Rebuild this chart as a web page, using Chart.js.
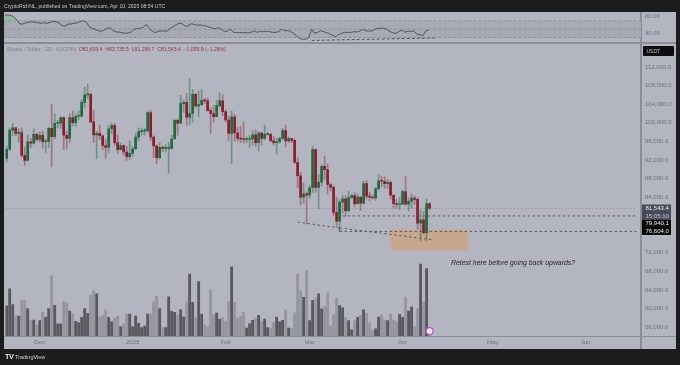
<!DOCTYPE html>
<html>
<head>
<meta charset="utf-8">
<title>Bitcoin / Tether</title>
<script src="https://cdn.jsdelivr.net/npm/chart.js@4/dist/chart.umd.min.js"></script>
<style>
  html, body { margin: 0; padding: 0; background: #1c1c1c; overflow: hidden; }
  #page { position: relative; width: 680px; height: 365px; filter: blur(0.35px); font-family: "Liberation Sans", sans-serif; }
  #panel { position: absolute; left: 4px; top: 12px; width: 672px; height: 337px; background: #b3b5c0; }
  .rule { position: absolute; background: #8b8d99; }
  #ruleTop { left: 4px; top: 42px; width: 672px; height: 2px; }
  #ruleBottom { left: 4px; top: 336px; width: 672px; height: 1px; }
  #ruleAxis { left: 640px; top: 12px; width: 2px; height: 337px; }
  canvas { position: absolute; left: 0; }
  #rsiChart { top: 12px; }
  #mainChart { top: 44px; }
  #strip { position: absolute; left: 0; top: 0; width: 4px; height: 365px; background: #1c1c1c; }
  .txt { position: absolute; white-space: nowrap; }
  #publisher { left: 4px; top: 3px; font-size: 5.1px; line-height: 7px; color: #c9c9c9; }
  #legend { left: 7px; top: 46px; font-size: 5.1px; line-height: 7px; color: #7b7d88; }
  #legend b { font-weight: normal; color: #8c3a4a; }
  #usdt { left: 643px; top: 46px; width: 31px; height: 10px; background: #0c0c0e; color: #c4c4c8; font-size: 5px; line-height: 10px; text-indent: 3.5px; border-radius: 1px; }
  #retest { left: 451px; top: 258px; font-size: 6.9px; line-height: 9px; font-style: italic; color: #26272c; }
  #tvMark { left: 5px; top: 353px; font-size: 7.5px; line-height: 8px; font-weight: bold; color: #e4e4e4; letter-spacing: -0.5px; }
  #tvName { left: 15px; top: 353px; font-size: 5.5px; line-height: 8px; color: #d2d2d2; }
</style>
</head>
<body>
<div id="page">
  <div id="panel"></div>
  <div class="rule" id="ruleTop"></div>
  <div class="rule" id="ruleBottom"></div>
  <div class="rule" id="ruleAxis"></div>
  <canvas id="rsiChart" width="676" height="30"></canvas>
  <canvas id="mainChart" width="676" height="305"></canvas>
  <div id="strip"></div>
  <div class="txt" id="publisher">CryptoRichNL, published on TradingView.com, Apr 10, 2025 08:54 UTC</div>
  <div class="txt" id="legend">Bitcoin / Tether · 1D · KUCOIN &nbsp;<b>O82,603.4 &nbsp;H82,735.5 &nbsp;L81,296.7 &nbsp;C81,543.4 &nbsp;−1,059.9 (−1.28%)</b></div>
  <div class="txt" id="usdt">USDT</div>
  <div class="txt" id="retest">Retest here before going back upwards?</div>
  <div class="txt" id="tvMark">TV</div>
  <div class="txt" id="tvName">TradingView</div>
</div>

<script>
// candles, one per day from 2024-11-20 to 2025-04-10
const opens = [
  92300,94300,98400,98900,97700,97900,93000,91900,95900,95600,97500,
  96400,97300,95900,96000,98800,97000,99900,99900,101100,97300,96600,101100,100000,101400,101400,104400,106000,106100,100200,97400,97700,97200,95100,94700,98700,99400,95700,94200,95100,93700,92700,
  93400,94400,96900,98100,98200,98300,102200,96900,95000,92500,94700,94500,94500,94500,96500,100500,99900,104100,104400,101200,102000,106100,103600,103900,104800,104700,102600,102000,101300,103700,104700,
  102400,100600,97700,101300,97800,96600,96500,96400,96400,96500,97400,95700,97800,96600,97500,97500,96100,95700,95900,96600,98300,96100,96600,96200,91500,88600,84000,84700,
  84400,86000,94200,86100,87200,90600,89900,86700,86100,80700,78800,82900,83600,81100,83900,84300,82600,84000,82700,86900,84200,84000,83800,85800,87500,87400,86900,87200,84400,82600,82400,
  82500,85200,82500,83100,83800,83500,78400,79100,76300,82600
];
const highs = [
  94900,98900,99800,99000,98700,98900,94800,97400,96600,98700,97800,
  98000,98200,96500,99000,104000,102000,100500,101300,101200,98200,101900,102500,101900,102600,105000,107700,108300,106500,102700,98100,99500,97400,96400,99400,99900,99900,97400,95600,95200,94900,96100,
  94900,97800,98900,98800,98800,102500,102700,97200,95300,95800,95000,95300,95800,97300,100700,100800,105900,104900,106300,109500,107200,106300,106800,107100,105200,105400,103200,103700,104800,106400,106000,
  102800,101500,102500,101800,99000,99300,100200,96900,97300,98300,98500,98100,98000,99500,97900,97700,97000,96700,96900,98800,99500,96900,96600,96500,92500,89400,87000,85100,
  86500,95000,94400,88900,91000,92800,91200,86900,86500,84000,83500,84400,84300,85300,84700,85000,84700,84000,87400,87500,85000,84500,86000,88800,88500,88300,87800,87500,84600,83500,83900,
  85500,88500,83900,84700,84200,83800,81200,80900,83500,82735
];
const lows = [
  91500,94000,97200,97200,95700,92600,90800,91800,94600,95400,96000,
  95800,94500,93600,94700,90500,96500,98900,98800,94200,94300,95700,99300,99200,100600,101200,103300,105300,100000,95700,92200,96400,94200,92400,93500,97600,95100,93400,94100,93000,91900,92000,
  92800,94200,96100,97300,97300,97900,96200,92500,91200,92200,93800,93700,89200,94300,96500,97300,99900,102300,99500,99500,100100,103300,101200,103700,104100,102500,97700,100200,101300,103300,101500,
  100200,96200,91200,96100,96100,95700,95600,95700,94700,95200,94900,94000,95200,96300,97200,96000,95200,93300,95500,96400,94800,95700,95700,91200,86000,82300,82700,78200,
  83700,85000,85000,81500,86400,87800,84700,85300,80000,77500,76600,80600,79900,80800,83700,81900,82500,81100,82500,83600,83200,83600,83300,85500,86300,85900,85800,83600,81600,81600,81300,
  82400,82300,81100,81600,82400,77100,74500,76200,74600,81297
];
const closes = [
  94300,98400,98900,97700,97900,93000,91900,95900,95600,97500,96400,
  97300,95900,96000,98800,97000,99900,99900,101100,97300,96600,101100,100000,101400,101400,104400,106000,106100,100200,97400,97700,97200,95100,94700,98700,99400,95700,94200,95100,93700,92700,93400,
  94400,96900,98100,98200,98300,102200,96900,95000,92500,94700,94500,94500,94500,96500,100500,99900,104100,104400,101200,102000,106100,103600,103900,104800,104700,102600,102000,101300,103700,104700,102400,
  100600,97700,101300,97800,96600,96500,96400,96400,96500,97400,95700,97800,96600,97500,97500,96100,95700,95900,96600,98300,96100,96600,96200,91500,88600,84000,84700,84400,
  86000,94200,86100,87200,90600,89900,86700,86100,80700,78800,82900,83600,81100,83900,84300,82600,84000,82700,86900,84200,84000,83800,85800,87500,87400,86900,87200,84400,82600,82400,82500,
  85200,82500,83100,83800,83500,78400,79100,76300,82600,81543
];
const volumes = [
  92,144,96,61,61,108,108,84,49,49,34,47,72,57,84,184,94,37,37,106,101,76,68,45,40,57,84,69,124,139,129,58,62,80,57,43,55,60,29,37,67,67,
  28,61,39,26,30,67,67,104,121,84,27,26,120,75,72,64,81,58,104,189,103,56,166,67,33,28,142,65,70,52,56,44,106,211,
  103,54,61,72,24,37,48,54,63,44,52,26,24,42,58,43,48,79,24,23,71,188,139,118,199,47,109,116,129,83,89,132,31,65,115,93,86,57,47,19,46,57,63,80,69,40,16,22,
  58,65,49,47,67,49,43,66,57,119,76,89,28,83,220,103,206,5
];
const rsiValues = [
  83.9,83.9,83.1,79.9,71.9,62.4,62.4,65.5,67.1,67.9,67.1,65.5,64,65.5,64,66.3,68.7,67.9,65.5,57.6,57.6,62.4,62.4,64,65.5,67.9,70.3,67.9,
  56,52,49.6,46.4,44.8,48,52.8,52.8,46.4,43.2,43.2,41.6,40,40.8,43.2,49.6,52,52,54.4,61.6,52,45.6,41.6,44.8,45.6,45.6,45.6,52,56,60.8,64.8,
  62.4,56.8,58.4,63.2,60.8,60,60,59.2,57.6,54.4,52.8,51.2,53.6,49.6,44,45.6,50.4,42.4,41.6,41.6,41.6,41.6,40.8,43.2,45.6,42.4,45.6,44,45.6,
  44,42.4,42.4,44,49.6,46.4,46.4,44.8,40,33.6,28,25.6,25.6,29.6,50.4,40,42.4,46.4,44,41.6,38.4,35.2,32,37.6,
  40,42.4,42.4,42.4,44,43.2,45.6,49.6,46.4,45.6,45.6,49.6,52,52.8,52,49.6,44,41.6,40,44,48,42.4,45.6,44,46.4,37.6,36.8,34.4,46.4,48
];

const monthLabels = { "2024-12-01": "Dec", "2025-01-01": "2025", "2025-02-01": "Feb", "2025-03-01": "Mar", "2025-04-01": "Apr", "2025-05-01": "May", "2025-06-01": "Jun" };
const priceTicks = [56000,60000,64000,68000,72000,84000,88000,92000,96000,100000,104000,108000,112000];
const rsiTicks = [40,80];

const lastPrice = 81543.4;
const countdown = "15:05:10";
const supportHigh = 79940.1;
const supportLow = 76604.0;

// levels and trend lines drawn on the chart by hand
const lastLine = [{x:"2024-11-20",y:lastPrice},{x:"2025-06-18",y:lastPrice}];
const highLine = [{x:"2025-03-12",y:supportHigh},{x:"2025-06-18",y:supportHigh}];
const lowLine = [{x:"2025-03-11",y:supportLow},{x:"2025-06-18",y:supportLow}];
const trendOne = [{x:"2025-02-25",y:78620},{x:"2025-03-11",y:77350}];
const trendTwo = [{x:"2025-03-11",y:77350},{x:"2025-04-11",y:74815}];
const trendDrop = [{x:"2025-03-11",y:77350},{x:"2025-03-11",y:supportLow}];
const retestBox = [{x:"2025-03-28",y:77000},{x:"2025-04-23",y:77000}];
const retestBottom = 72500;
const eventMark = [{x:"2025-04-10",y:15}];
const rsiTrend = [{x:"2025-03-02",y:23},{x:"2025-04-12",y:29}];

// days on the x axis, with the empty space to the right of the last candle
const labels = [];
for (let d = Date.UTC(2024, 10, 20), i = 0; i < 212; i++, d += 86400000) {
  labels.push(new Date(d).toISOString().slice(0, 10));
}

const axisColor = "#8b8d99";
const tickColor = "#6f717c";
const tickFont = { family: "Liberation Sans", size: 6 };
const noGrid = { display: false, drawTicks: false };
const drawnLine = { type: "line", yAxisID: "y", borderColor: "#5c5e66", borderWidth: 1, borderDash: [2.5, 2.5], pointRadius: 0 };

// fixed axis size, and no room kept for labels that stick out of the plot
function sizeRightAxis(scale) {
  scale.width = 35;
  scale.paddingTop = 0;
  scale.paddingBottom = 0;
}
function money(v) { return v.toLocaleString("en-US", { minimumFractionDigits: 1, maximumFractionDigits: 1 }); }

const upColor = "#1d6b3d";
const downColor = "#8c1b2c";
const isUp = opens.map((o, i) => closes[i] >= o);

// price tags on the right axis, the two levels sit stacked under the last price
const priceTags = {
  id: "priceTags",
  afterDraw(chart) {
    const { ctx, scales } = chart;
    const left = 642, width = 29;
    const yLast = scales.y.getPixelForValue(lastPrice);
    const yLow = scales.y.getPixelForValue(supportLow);
    ctx.save();
    ctx.fillStyle = "#474a58";
    ctx.fillRect(left, yLast - 4, width, 15.5);
    ctx.fillStyle = "#060607";
    ctx.fillRect(left, yLast + 11.5, width, yLow - yLast - 8);
    ctx.font = "6px 'Liberation Sans'";
    ctx.textBaseline = "middle";
    ctx.textAlign = "left";
    ctx.fillStyle = "#f2f2f2";
    ctx.fillText(money(lastPrice), left + 3.5, yLast);
    ctx.fillText(money(supportHigh), left + 3.5, yLow - 8.3);
    ctx.fillText(money(supportLow), left + 3.5, yLow);
    ctx.fillStyle = "#c9cad0";
    ctx.fillText(countdown, left + 3.5, yLast + 7.5);
    ctx.restore();
  }
};

new Chart(document.getElementById("mainChart"), {
  data: {
    labels: labels,
    datasets: [
      { type: "line", data: retestBox, yAxisID: "y", borderWidth: 0, pointRadius: 0, order: 9,
        fill: { target: { value: retestBottom } }, backgroundColor: "rgba(225,154,83,0.45)" },
      { type: "bar", data: volumes, yAxisID: "yVol", order: 8, barThickness: 2.2, grouped: false,
        backgroundColor: isUp.map(u => u ? "#595a60" : "#95969f") },
      { type: "line", data: lastLine, yAxisID: "y", borderColor: "#8f919b", borderWidth: 1, borderDash: [1, 2], pointRadius: 0, order: 7 },
      { type: "bar", data: lows.map((l, i) => [l, highs[i]]), yAxisID: "y", order: 6, barThickness: 1, grouped: false,
        backgroundColor: isUp.map(u => u ? "rgba(29,107,61,0.45)" : "rgba(140,27,44,0.42)") },
      { type: "bar", data: opens.map((o, i) => [o, closes[i]]), yAxisID: "y", order: 5, barThickness: 2, grouped: false, minBarLength: 1,
        backgroundColor: isUp.map(u => u ? upColor : downColor) },
      { ...drawnLine, data: highLine, order: 4 },
      { ...drawnLine, data: lowLine, order: 4 },
      { ...drawnLine, data: trendOne, order: 3 },
      { ...drawnLine, data: trendTwo, order: 3 },
      { ...drawnLine, data: trendDrop, order: 3 },
      { type: "line", data: eventMark, yAxisID: "yVol", showLine: false, pointRadius: 3.5, pointBorderWidth: 1.2,
        pointBackgroundColor: "#f4e6f6", pointBorderColor: "#c04fd0", order: 1 }
    ]
  },
  options: {
    responsive: false,
    animation: false,
    events: [],
    layout: { padding: { left: 3.4, top: 0, right: 0, bottom: 0 } },
    plugins: { legend: { display: false }, tooltip: { enabled: false } },
    scales: {
      x: {
        offset: true,
        grid: noGrid,
        border: { display: false },
        afterBuildTicks: s => { s.ticks = s.ticks.filter(t => monthLabels[labels[t.value]]); },
        afterFit: s => { s.height = 13; s.paddingLeft = 0; s.paddingRight = 0; },
        ticks: {
          autoSkip: false, maxRotation: 0, padding: 3, color: tickColor, font: tickFont,
          callback: function (v) { return monthLabels[labels[v]]; }
        }
      },
      y: {
        position: "right",
        min: 54097,
        max: 115831,
        grid: noGrid,
        border: { display: false },
        afterBuildTicks: s => { s.ticks = priceTicks.map(v => ({ value: v })); },
        afterFit: sizeRightAxis,
        ticks: { padding: 4, color: tickColor, font: tickFont, callback: v => money(v) }
      },
      yVol: { display: false, min: 0, max: 876 }
    }
  },
  plugins: [priceTags]
});

// band of the RSI pane
const rsiBand = {
  id: "rsiBand",
  beforeDatasetsDraw(chart) {
    const { ctx, chartArea, scales } = chart;
    const y70 = scales.y.getPixelForValue(70), y50 = scales.y.getPixelForValue(50), y30 = scales.y.getPixelForValue(30);
    ctx.save();
    ctx.fillStyle = "#a7a9b3";
    ctx.fillRect(chartArea.left, y70, chartArea.width, y30 - y70);
    ctx.strokeStyle = "#8d8f9a";
    ctx.lineWidth = 1;
    ctx.setLineDash([3, 2]);
    [y70, y50, y30].forEach(y => {
      ctx.beginPath();
      ctx.moveTo(chartArea.left, y);
      ctx.lineTo(chartArea.right, y);
      ctx.stroke();
    });
    ctx.restore();
  }
};

new Chart(document.getElementById("rsiChart"), {
  data: {
    labels: labels,
    datasets: [
      { type: "line", data: rsiValues, borderColor: "#53555c", borderWidth: 1, pointRadius: 0, tension: 0,
        fill: { target: { value: 70 }, above: "rgba(110,190,120,0.55)", below: "rgba(0,0,0,0)" } },
      { type: "line", data: rsiTrend, borderColor: "#50525a", borderWidth: 1, borderDash: [3, 2], pointRadius: 0 }
    ]
  },
  options: {
    responsive: false,
    animation: false,
    events: [],
    layout: { padding: { left: 3.4, top: 0, right: 0, bottom: 0 } },
    plugins: { legend: { display: false }, tooltip: { enabled: false } },
    scales: {
      x: { display: false, offset: true },
      y: {
        position: "right",
        min: 19.2,
        max: 91.3,
        grid: noGrid,
        border: { display: false },
        afterBuildTicks: s => { s.ticks = rsiTicks.map(v => ({ value: v })); },
        afterFit: sizeRightAxis,
        ticks: { padding: 4, color: tickColor, font: tickFont, callback: v => v.toFixed(2) }
      }
    }
  },
  plugins: [rsiBand]
});
</script>
</body>
</html>
